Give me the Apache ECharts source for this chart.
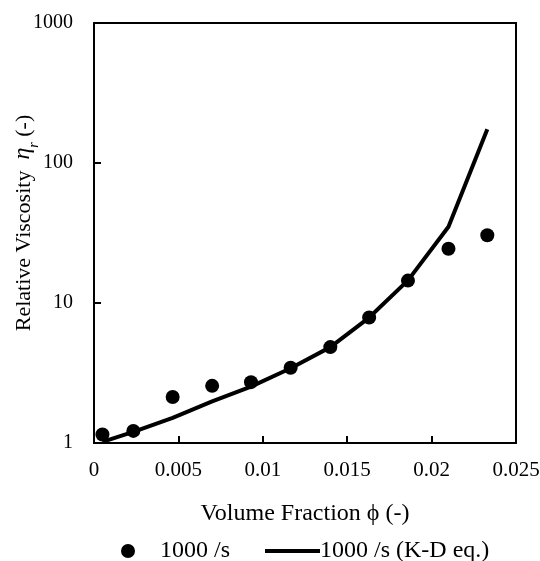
<!DOCTYPE html>
<html>
<head>
<meta charset="utf-8">
<script src="https://cdn.jsdelivr.net/npm/echarts@6/dist/echarts.min.js"></script>
<style>html,body{margin:0;padding:0;background:#fff}#c{width:540px;height:561px}</style>
</head>
<body>
<div id="c"></div>
<script>
var phi = [0.0005, 0.00233, 0.00466, 0.0070, 0.0093, 0.01165, 0.0140, 0.0163, 0.0186, 0.0210, 0.0233];
var measured = [1.15, 1.22, 2.13, 2.56, 2.72, 3.45, 4.84, 7.87, 14.45, 24.4, 30.5];
var kdEq = [1.02, 1.2, 1.51, 1.98, 2.53, 3.42, 4.84, 7.87, 14.5, 35, 174];
var xTicks = [0, 0.005, 0.01, 0.015, 0.02, 0.025];
var yTicks = [1, 10, 100, 1000];
var seriesNames = ['1000 /s', '1000 /s (K-D eq.)'];

var font = 'Liberation Serif';
var chart = echarts.init(document.getElementById('c'), null, {renderer: 'canvas'});
var option = {
  animation: false,
  backgroundColor: '#fff',
  textStyle: {fontFamily: font, color: '#000'},
  grid: {left: 94, right: 24, top: 23, bottom: 118, containLabel: false, outerBoundsMode: 'none',
    show: true, borderColor: '#000', borderWidth: 2, backgroundColor: 'transparent'},
  xAxis: {
    type: 'value', min: xTicks[0], max: xTicks[xTicks.length - 1], interval: 0.005,
    name: 'Volume Fraction \u03d5 (-)', nameLocation: 'middle', nameGap: 59, nameMoveOverlap: false,
    nameTextStyle: {fontFamily: font, fontSize: 24, color: '#000'},
    axisLine: {show: true, lineStyle: {color: '#000', width: 2}},
    axisTick: {show: true, inside: true, length: 7, lineStyle: {color: '#000', width: 2}},
    axisLabel: {fontFamily: font, fontSize: 21, color: '#000', margin: 17,
      formatter: function (v) { return String(+v.toFixed(3)); }},
    splitLine: {show: false}
  },
  yAxis: {
    type: 'log', logBase: 10, min: yTicks[0], max: yTicks[yTicks.length - 1],
    name: '{a|Relative Viscosity  }{i|\u03b7}{s|r}{a| (-)}', nameLocation: 'middle', nameGap: 59, nameRotate: 90,
    nameMoveOverlap: false,
    nameTextStyle: {
      fontFamily: font, fontSize: 22, color: '#000', padding: [0, 0, 0, 20],
      rich: {
        a: {fontFamily: font, fontSize: 22, color: '#000', verticalAlign: 'bottom', lineHeight: 26},
        i: {fontFamily: font, fontSize: 24, fontStyle: 'italic', color: '#000', verticalAlign: 'bottom', lineHeight: 26},
        s: {fontFamily: font, fontSize: 14, fontStyle: 'italic', color: '#000', verticalAlign: 'bottom', lineHeight: 26, padding: [0, 0, -6, 0]}
      }
    },
    axisLine: {show: true, lineStyle: {color: '#000', width: 2}},
    axisTick: {show: true, inside: true, length: 7, lineStyle: {color: '#000', width: 2}},
    minorTick: {show: false},
    axisLabel: {fontFamily: font, fontSize: 20, color: '#000', margin: 21,
      formatter: function (v) { return String(Math.round(v)); }},
    splitLine: {show: false}
  },
  legend: [
    {
      data: [{name: seriesNames[0], icon: 'circle'}], top: 539, left: 121, padding: 0, itemWidth: 14, itemHeight: 14,
      textStyle: {fontFamily: font, fontSize: 24, color: '#000', padding: [0, 0, 0, 20]},
      selectedMode: false
    },
    {
      data: [{name: seriesNames[1], icon: 'rect'}], top: 539, left: 265, padding: 0, itemWidth: 55, itemHeight: 4,
      textStyle: {fontFamily: font, fontSize: 24, color: '#000', padding: [0, 0, 0, -5]},
      selectedMode: false
    }
  ],
  series: [
    {
      name: seriesNames[0], type: 'scatter', symbol: 'circle', symbolSize: 14,
      itemStyle: {color: '#000', opacity: 1}, z: 3,
      data: phi.map(function (x, i) { return [x, measured[i]]; })
    },
    {
      name: seriesNames[1], type: 'line', symbol: 'none', showSymbol: false,
      lineStyle: {color: '#000', width: 4}, itemStyle: {color: '#000'}, z: 2,
      data: phi.map(function (x, i) { return [x, kdEq[i]]; })
    }
  ]
};
chart.setOption(option);
</script>
</body>
</html>
